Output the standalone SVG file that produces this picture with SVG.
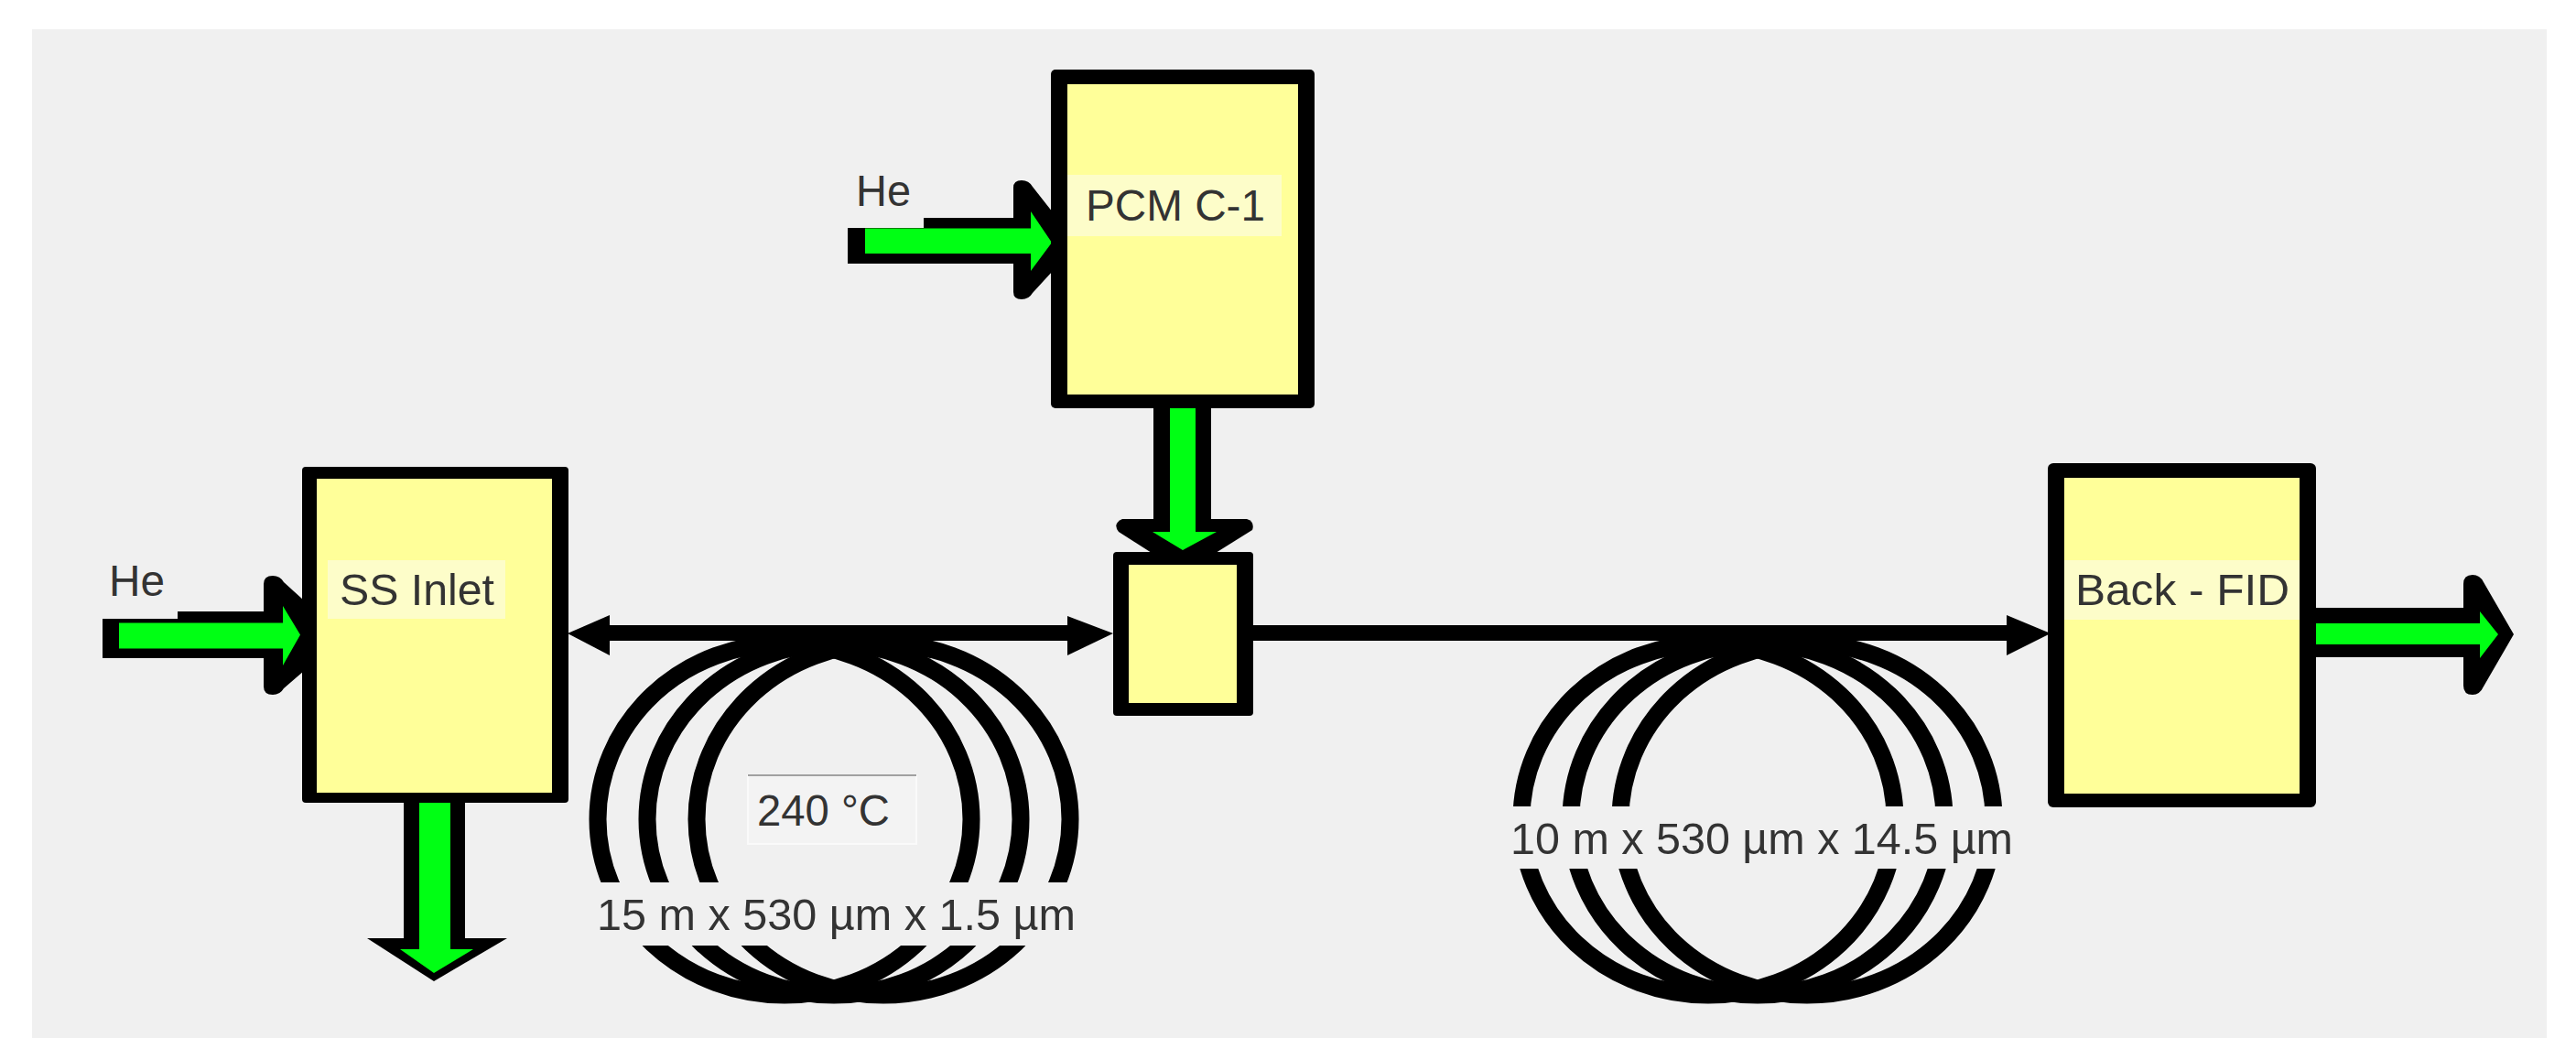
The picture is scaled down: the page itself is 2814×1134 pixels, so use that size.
<svg xmlns="http://www.w3.org/2000/svg" width="2814" height="1134" viewBox="0 0 2814 1134">
<style>
.k{fill:#000}
.y{fill:#ffff99}
.g{fill:#00ff14}
.lb{fill:#fdfdc9}
.bgc{fill:#f0f0f0}
.ring{fill:none;stroke:#000;stroke-width:19}
text{font-family:"Liberation Sans",Arial,sans-serif;font-size:48px;fill:#333}
</style>
<rect width="2814" height="1134" fill="#fff"/>
<rect x="35" y="32" width="2747" height="1102" fill="#f0f0f0"/>

<g id="column-1">
<ellipse class="ring" cx="857" cy="895" rx="204" ry="192"/>
<ellipse class="ring" cx="911" cy="895" rx="204" ry="192"/>
<ellipse class="ring" cx="965" cy="895" rx="204" ry="192"/>
<rect class="bgc" x="640" y="964" width="545" height="69"/>
<text x="652" y="1016" textLength="523" lengthAdjust="spacingAndGlyphs">15 m x 530 µm x 1.5 µm</text>
<rect x="817" y="847" width="184" height="75" fill="#f3f3f3" stroke="#fafafa" stroke-width="2"/>
<rect x="817" y="846" width="184" height="2" fill="#a0a0a0"/>
<text x="827" y="902" textLength="145" lengthAdjust="spacingAndGlyphs">240 °C</text>
</g>

<g id="column-2">
<ellipse class="ring" cx="1866" cy="895" rx="204" ry="192"/>
<ellipse class="ring" cx="1920" cy="895" rx="204" ry="192"/>
<ellipse class="ring" cx="1974" cy="895" rx="204" ry="192"/>
<rect class="bgc" x="1640" y="881" width="565" height="68"/>
<text x="1650" y="933" textLength="549" lengthAdjust="spacingAndGlyphs">10 m x 530 µm x 14.5 µm</text>
</g>

<g id="connectors">
<rect class="k" x="660" y="683" width="510" height="17"/>
<polygon class="k" points="620,692 666,672 666,716"/>
<polygon class="k" points="1216,692 1166,673 1166,716"/>
<rect class="k" x="1369" y="683" width="830" height="17"/>
<polygon class="k" points="2240,692 2192,672 2192,716"/>

<path id="he-in-1" class="k" d="M112 676V719H300V668H194V676Z"/>
<path class="k" d="M288 638Q288 629 298 629Q306 629 310 636L332 656V733L310 752Q306 759 298 759Q288 759 288 750Z"/>
<path class="g" d="M130 680.500H309V662L328 693.500L309 727V708.500H130Z"/>

<path id="he-in-2" class="k" d="M926 249H1009V238H1115V288H926Z"/>
<path class="k" d="M1107 205Q1107 197 1116 197Q1124 197 1128 204L1150 232V296L1128 320Q1124 327 1116 327Q1107 327 1107 319Z"/>
<path class="g" d="M945 249.500H1126V231L1149 265L1126 296V277H945Z"/>

<rect class="k" x="441" y="870" width="67" height="156"/>
<polygon class="k" points="401,1025 554,1025 474,1072"/>
<path class="g" d="M458 870H492V1037L517 1037L474 1063L437 1037H458Z"/>

<rect class="k" x="1260" y="440" width="63" height="128"/>
<path class="k" d="M1226 567H1362Q1371 570 1368 579L1328 604H1258L1222 581Q1215 572 1226 567Z"/>
<path class="g" d="M1278 440H1306V581H1329L1292 601L1259 581H1278Z"/>

<rect class="k" x="2525" y="664" width="175" height="54"/>
<path class="k" d="M2691 638Q2691 628 2701 628Q2709 628 2713 636L2746 693L2713 750Q2709 759 2701 759Q2691 759 2691 749Z"/>
<path class="g" d="M2530 681H2709V668L2729 693L2709 719V704H2530Z"/>
</g>

<g id="ss-inlet">
<rect class="k" x="330" y="510" width="291" height="367" rx="4"/>
<rect class="y" x="346" y="523" width="257" height="343"/>
<rect class="lb" x="358" y="612" width="194" height="64"/>
<text x="371" y="661" textLength="169" lengthAdjust="spacingAndGlyphs">SS Inlet</text>
</g>
<text x="119" y="651" textLength="61" lengthAdjust="spacingAndGlyphs">He</text>

<g id="pcm-c-1">
<rect class="k" x="1148" y="76" width="288" height="370" rx="5"/>
<rect class="y" x="1166" y="92" width="252" height="339"/>
<rect class="lb" x="1166" y="191" width="234" height="67"/>
<text x="1186" y="241" textLength="196" lengthAdjust="spacingAndGlyphs">PCM C-1</text>
</g>
<text x="935" y="225" textLength="60" lengthAdjust="spacingAndGlyphs">He</text>

<g id="junction">
<rect class="k" x="1216" y="603" width="153" height="179" rx="4"/>
<rect class="y" x="1233" y="617" width="118" height="151"/>
</g>

<g id="back-fid">
<rect class="k" x="2237" y="506" width="293" height="376" rx="6"/>
<rect class="y" x="2255" y="522" width="257" height="345"/>
<rect class="lb" x="2255" y="612" width="257" height="65"/>
<text x="2267" y="661" textLength="234" lengthAdjust="spacingAndGlyphs">Back - FID</text>
</g>
</svg>
